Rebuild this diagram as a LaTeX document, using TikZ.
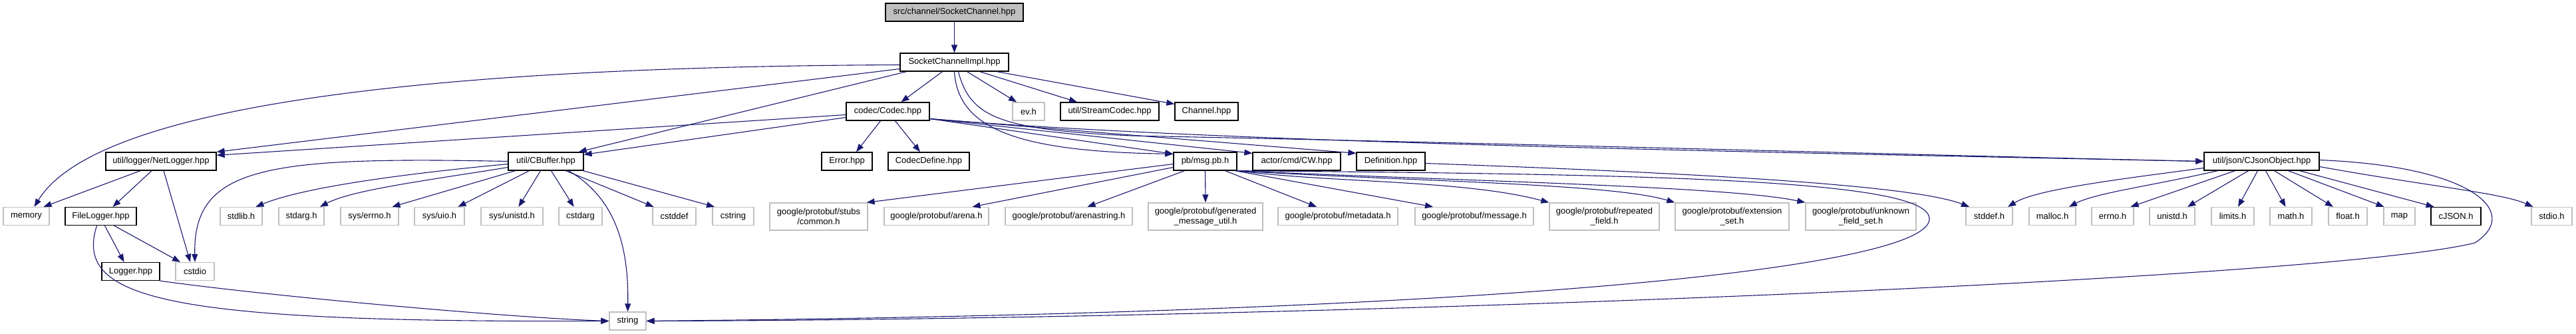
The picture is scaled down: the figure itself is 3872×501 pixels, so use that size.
\documentclass[tikz,border=0pt]{standalone}
\usepackage{fontspec}
\setmainfont{Liberation Sans}
\usetikzlibrary{arrows.meta}
\definecolor{edgeblue}{RGB}{25,25,112}
\definecolor{grey75}{RGB}{191,191,191}
\tikzset{
  >={Triangle[length=12pt,width=9pt]},
  file/.style={draw=black,line width=1.3pt,fill=white,inner sep=0pt,
    minimum height=27pt,font=\fontsize{13}{15}\selectfont,align=center},
  sys/.style={file,draw=grey75},
  rootfile/.style={file,fill=grey75},
  dep/.style={->,draw=edgeblue,line width=1.1pt},
}
\begin{document}
\begin{tikzpicture}[x=1pt,y=-1pt]
  \useasboundingbox (0,0) rectangle (3872,501);
  % top
  \node[rootfile,minimum width=207pt] (root) at (1434.5,18.5) {src/channel/SocketChannel.hpp};
  \node[file,minimum width=163pt] (impl) at (1434.5,93.5) {SocketChannelImpl.hpp};
  \node[file,minimum width=125pt] (codec) at (1334.5,167.5) {codec/Codec.hpp};
  \node[sys,minimum width=48pt] (evh) at (1546,167.5) {ev.h};
  \node[file,minimum width=148pt] (streamcodec) at (1668,167.5) {util/StreamCodec.hpp};
  \node[file,minimum width=95pt] (channel) at (1813.5,167.5) {Channel.hpp};
  % middle row
  \node[file,minimum width=166pt] (netlogger) at (242,242.5) {util/logger/NetLogger.hpp};
  \node[file,minimum width=113pt] (cbuffer) at (820.5,242.5) {util/CBuffer.hpp};
  \node[file,minimum width=76pt] (error) at (1273,242.5) {Error.hpp};
  \node[file,minimum width=122pt] (codecdefine) at (1396,242.5) {CodecDefine.hpp};
  \node[file,minimum width=95pt] (msgpb) at (1811.5,242.5) {pb/msg.pb.h};
  \node[file,minimum width=132pt] (cw) at (1949,242.5) {actor/cmd/CW.hpp};
  \node[file,minimum width=103pt] (definition) at (2090.5,242.5) {Definition.hpp};
  \node[file,minimum width=173pt] (cjsonobj) at (3399.5,242.5) {util/json/CJsonObject.hpp};
  % headers
  \node[sys,minimum width=69pt] (memory) at (39.5,325) {memory};
  \node[file,minimum width=107pt] (filelogger) at (151.5,325) {FileLogger.hpp};
  \node[sys,minimum width=63pt] (stdlib) at (362.5,325) {stdlib.h};
  \node[sys,minimum width=68pt] (stdarg) at (453,325) {stdarg.h};
  \node[sys,minimum width=87pt] (syserrno) at (555.5,325) {sys/errno.h};
  \node[sys,minimum width=75pt] (sysuio) at (660.5,325) {sys/uio.h};
  \node[sys,minimum width=93pt] (sysunistd) at (769.5,325) {sys/unistd.h};
  \node[sys,minimum width=65pt] (cstdarg) at (872.5,325) {cstdarg};
  \node[sys,minimum width=65pt] (cstddef) at (1013.5,325) {cstddef};
  \node[sys,minimum width=62pt] (cstring) at (1102,325) {cstring};
  \node[sys,minimum width=147pt,minimum height=41pt] (stubs) at (1230.5,325.5) {google/protobuf/stubs\\/common.h};
  \node[sys,minimum width=157pt] (arena) at (1407.5,325) {google/protobuf/arena.h};
  \node[sys,minimum width=191pt] (arenastring) at (1606.5,325) {google/protobuf/arenastring.h};
  \node[sys,minimum width=172pt,minimum height=41pt] (genmsg) at (1812,325.5) {google/protobuf/generated\\\_message\_util.h};
  \node[sys,minimum width=180pt] (metadata) at (2011,325) {google/protobuf/metadata.h};
  \node[sys,minimum width=178pt] (message) at (2216,325) {google/protobuf/message.h};
  \node[sys,minimum width=165pt,minimum height=41pt] (repeated) at (2411.5,325.5) {google/protobuf/repeated\\\_field.h};
  \node[sys,minimum width=171pt,minimum height=41pt] (extension) at (2603.5,325.5) {google/protobuf/extension\\\_set.h};
  \node[sys,minimum width=166pt,minimum height=41pt] (unknown) at (2797,325.5) {google/protobuf/unknown\\\_field\_set.h};
  \node[sys,minimum width=70pt] (stddef) at (2990,325) {stddef.h};
  \node[sys,minimum width=70pt] (malloc) at (3085,325) {malloc.h};
  \node[sys,minimum width=63pt] (errno) at (3175.5,325) {errno.h};
  \node[sys,minimum width=68pt] (unistd) at (3265,325) {unistd.h};
  \node[sys,minimum width=64pt] (limits) at (3356,325) {limits.h};
  \node[sys,minimum width=63pt] (math) at (3443.5,325) {math.h};
  \node[sys,minimum width=58pt] (float) at (3529,325) {float.h};
  \node[sys,minimum width=47pt] (map) at (3606.5,325) {map};
  \node[file,minimum width=75pt] (cjsonh) at (3691.5,325) {cJSON.h};
  \node[sys,minimum width=61pt] (stdio) at (3835.5,325) {stdio.h};
  % bottom
  \node[file,minimum width=87pt] (logger) at (196.5,408) {Logger.hpp};
  \node[sys,minimum width=58pt] (cstdio) at (293,408) {cstdio};
  \node[sys,minimum width=55pt] (string) at (943.5,482.5) {string};

  % SocketChannel and SocketChannelImpl
  \draw[dep] (root) -- (impl);
  \draw[dep] ([yshift=-4pt]impl.west) .. controls (700,100) and (150,150) .. ([xshift=12pt]memory.north);
  \draw[dep] ([yshift=-10pt]impl.west) -- (netlogger.north east);
  \draw[dep] ([xshift=-72pt]impl.south) -- ([xshift=-8pt]cbuffer.north east);
  \draw[dep] ([xshift=-18pt]impl.south) -- ([xshift=20pt]codec.north);
  \draw[dep] ([xshift=19pt]impl.south) -- ([xshift=-18pt]evh.north);
  \draw[dep] ([xshift=38pt]impl.south) -- ([xshift=-49pt]streamcodec.north);
  \draw[dep] ([xshift=64pt]impl.south) -- ([yshift=-3pt]channel.north west);
  \draw[dep] (impl.south) .. controls (1440,190) and (1520,228) .. ([yshift=-3pt]msgpb.north west);
  \draw[dep] ([xshift=6pt]impl.south) .. controls (1458,175) and (1500,195) .. (1700,204)
    .. controls (2300,216) and (3000,236) .. (cjsonobj.west);

  % Codec
  \draw[dep] ([yshift=-5pt]codec.west) -- ([yshift=-5pt]netlogger.north east);
  \draw[dep] ([yshift=-9pt]codec.west) -- ([yshift=-4pt]cbuffer.north east);
  \draw[dep] ([xshift=-11pt]codec.south) -- ([xshift=14pt]error.north);
  \draw[dep] ([xshift=11pt]codec.south) -- ([xshift=-13pt]codecdefine.north);
  \draw[dep] ([yshift=-11pt]codec.east) -- ([yshift=-3pt]msgpb.north west);
  \draw[dep] ([yshift=-11pt]codec.east) -- ([yshift=-2pt]cw.north west);
  \draw[dep] ([yshift=-11pt]codec.east) -- ([yshift=-2pt]definition.north west);
  \draw[dep] ([yshift=-11pt]codec.east) .. controls (1800,212) and (2500,226) .. (cjsonobj.west);

  % NetLogger, FileLogger, Logger
  \draw[dep] ([xshift=-31pt]netlogger.south) -- ([xshift=26pt]memory.north);
  \draw[dep] ([xshift=-14pt]netlogger.south) -- ([xshift=18pt]filelogger.north);
  \draw[dep] ([xshift=4pt]netlogger.south) -- ([xshift=-7pt]cstdio.north);
  \draw[dep] ([xshift=6pt]filelogger.south) -- ([xshift=-10pt]logger.north);
  \draw[dep] ([xshift=20pt]filelogger.south) -- ([xshift=-22pt]cstdio.north);
  \draw[dep] ([xshift=-6pt]filelogger.south) .. controls (110,450) and (250,485) .. (string.west);
  \draw[dep] (logger.south east) .. controls (420,447) and (780,478) .. (string.west);

  % CBuffer
  \draw[dep] (cbuffer.west) .. controls (400,235) and (290,250) .. (cstdio.north);
  \draw[dep] ([yshift=-4pt]cbuffer.west) .. controls (620,260) and (460,280) .. ([xshift=22pt]stdlib.north);
  \draw[dep] ([yshift=-9pt]cbuffer.west) .. controls (650,270) and (530,285) .. ([xshift=28pt]stdarg.north);
  \foreach \s/\n/\e in {-46/syserrno/34,-25/sysuio/28,-8/sysunistd/10,8/cstdarg/-10,30/cstddef/-31,56/cstring/-28}
    \draw[dep] ([xshift=\s pt]cbuffer.south) -- ([xshift=\e pt]\n.north);
  \draw[dep] ([xshift=34pt]cbuffer.south) .. controls (930,300) and (945,380) .. (string.north);

  % pb/msg.pb.h
  \draw[dep] ([yshift=-4pt]msgpb.west) -- ([xshift=-2pt]stubs.north east);
  \draw[dep] ([yshift=-9pt]msgpb.west) -- ([xshift=54pt]arena.north);
  \draw[dep] ([xshift=-31pt]msgpb.south) -- ([xshift=28pt]arenastring.north);
  \draw[dep] (msgpb.south) -- (genmsg.north);
  \draw[dep] ([xshift=30pt]msgpb.south) -- ([xshift=-32pt]metadata.north);
  \draw[dep] ([xshift=45pt]msgpb.south) -- ([xshift=-62pt]message.north);
  \draw[dep] (msgpb.south east) .. controls (2000,275) and (2200,270) .. (repeated.north west);
  \draw[dep] (msgpb.south east) .. controls (2100,272) and (2420,275) .. (extension.north west);
  \draw[dep] (msgpb.south east) .. controls (2200,272) and (2600,280) .. (unknown.north west);
  \draw[dep] (msgpb.south east) .. controls (2500,262) and (2905,270) .. (2900,330)
    .. controls (2895,400) and (2300,470) .. (string.east);

  % Definition and CJsonObject
  \draw[dep] ([yshift=-3pt]definition.east) .. controls (2600,262) and (2880,280) .. ([xshift=-30pt]stddef.north);
  \draw[dep] ([yshift=-10pt]cjsonobj.west) .. controls (3180,270) and (3060,285) .. ([xshift=28pt]stddef.north);
  \draw[dep] ([xshift=-66pt]cjsonobj.south) .. controls (3230,280) and (3150,290) .. ([xshift=25pt]malloc.north);
  \foreach \s/\n/\e in {-40/errno/27,-20/unistd/23,-6/limits/8,6/math/-8,19/float/-22,40/map/-23,57/cjsonh/-33}
    \draw[dep] ([xshift=\s pt]cjsonobj.south) -- ([xshift=\e pt]\n.north);
  \draw[dep] ([yshift=-8pt]cjsonobj.east) .. controls (3650,280) and (3760,290) .. ([xshift=-28pt]stdio.north);
  \draw[dep] ([yshift=2pt]cjsonobj.east) .. controls (3720,250) and (3790,320) .. (3720,365)
    .. controls (3500,420) and (2000,480) .. (string.east);
\end{tikzpicture}
\end{document}
